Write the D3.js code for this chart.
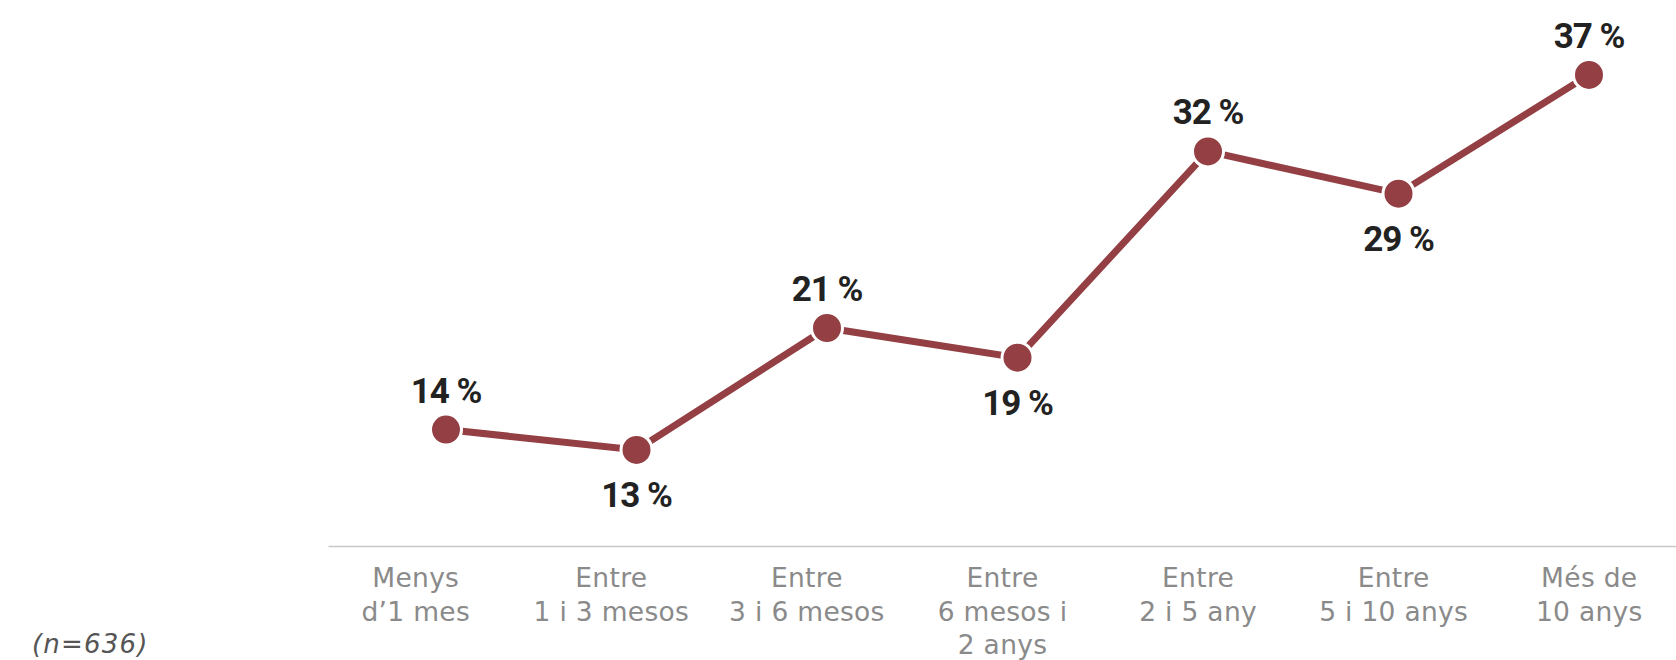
<!DOCTYPE html>
<html lang="ca">
<head>
    <meta charset="UTF-8"/>
    <title>Temps – línia</title>
    <script src="https://d3js.org/d3.v7.min.js"></script>
    <style>
        body { margin: 0; background: #fff; }
    </style>
</head>
<body>
    <div id="chart"></div>

    <script>
        // Categories (line breaks as in the original labels)
        var categories = [
            "Menys\nd’1 mes",
            "Entre\n1 i 3 mesos",
            "Entre\n3 i 6 mesos",
            "Entre\n6 mesos i\n2 anys",
            "Entre\n2 i 5 any",
            "Entre\n5 i 10 anys",
            "Més de\n10 anys"
        ];

        // Percentages (labels are rounded)
        var values = [14.3, 13.0, 20.8, 18.9, 32.1, 29.4, 37.0];

        var sampleNote = "(n=636)";

        var width = 1676;
        var height = 660;
        var axisY = 546;
        var lineColor = "#933f43";

        var svg = d3.select("#chart")
            .append("svg")
            .attr("width", width)
            .attr("height", height);

        // x scale for the category labels on the axis
        var xLabel = d3.scalePoint()
            .domain(categories)
            .range([328, width])
            .padding(0.446);

        // x scale for the points
        var xPoint = d3.scalePoint()
            .domain(categories)
            .range([446, 1589]);

        var yScale = d3.scaleLinear()
            .domain([0, 40])
            .range([653, 28]);

        // Axis
        var xAxis = d3.axisBottom(xLabel)
            .tickSize(0)
            .tickSizeOuter(0);

        var gAxis = svg.append("g")
            .attr("transform", "translate(0," + axisY + ")")
            .call(xAxis);

        gAxis.select(".domain")
            .attr("stroke", "#c8c8c8")
            .attr("stroke-width", 1.5);

        gAxis.selectAll(".tick text").each(function(d) {
            var t = d3.select(this);
            t.text(null)
                .attr("y", 0)
                .attr("dy", null)
                .attr("fill", "#8a8a8a")
                .attr("font-family", "'DejaVu Sans', sans-serif")
                .attr("font-size", "26.5px")
                .attr("letter-spacing", "0.3px")
                .attr("text-anchor", "middle");
            d.split("\n").forEach(function(line, i) {
                t.append("tspan")
                    .attr("x", 0)
                    .attr("y", 41 + i * 33.7)
                    .text(line);
            });
        });

        // Line
        var line = d3.line()
            .x(function(d, i) { return xPoint(categories[i]); })
            .y(function(d) { return yScale(d); });

        svg.append("path")
            .datum(values)
            .attr("d", line)
            .attr("fill", "none")
            .attr("stroke", lineColor)
            .attr("stroke-width", 7);

        // Points
        svg.selectAll("circle.dot")
            .data(values)
            .enter()
            .append("circle")
            .attr("class", "dot")
            .attr("cx", function(d, i) { return xPoint(categories[i]); })
            .attr("cy", function(d) { return yScale(d); })
            .attr("r", 15.5)
            .attr("fill", lineColor)
            .attr("stroke", "#fff")
            .attr("stroke-width", 3);

        // Value labels: below when the value drops, above otherwise
        svg.selectAll("text.value")
            .data(values)
            .enter()
            .append("text")
            .attr("class", "value")
            .attr("x", function(d, i) { return xPoint(categories[i]); })
            .attr("y", function(d, i) {
                var below = i > 0 && d < values[i - 1];
                return yScale(d) + (below ? 57 : -27);
            })
            .attr("text-anchor", "middle")
            .attr("font-family", "Roboto, sans-serif")
            .attr("font-weight", "bold")
            .attr("font-size", "35px")
            .attr("letter-spacing", "-1px")
            .attr("fill", "#222")
            .text(function(d) { return Math.round(d) + " %"; });

        // Sample size note
        svg.append("text")
            .attr("x", 32)
            .attr("y", 653)
            .attr("font-family", "'DejaVu Sans', sans-serif")
            .attr("font-style", "italic")
            .attr("font-size", "26px")
            .attr("letter-spacing", "1.2px")
            .attr("fill", "#555")
            .text(sampleNote);
    </script>
</body>
</html>
